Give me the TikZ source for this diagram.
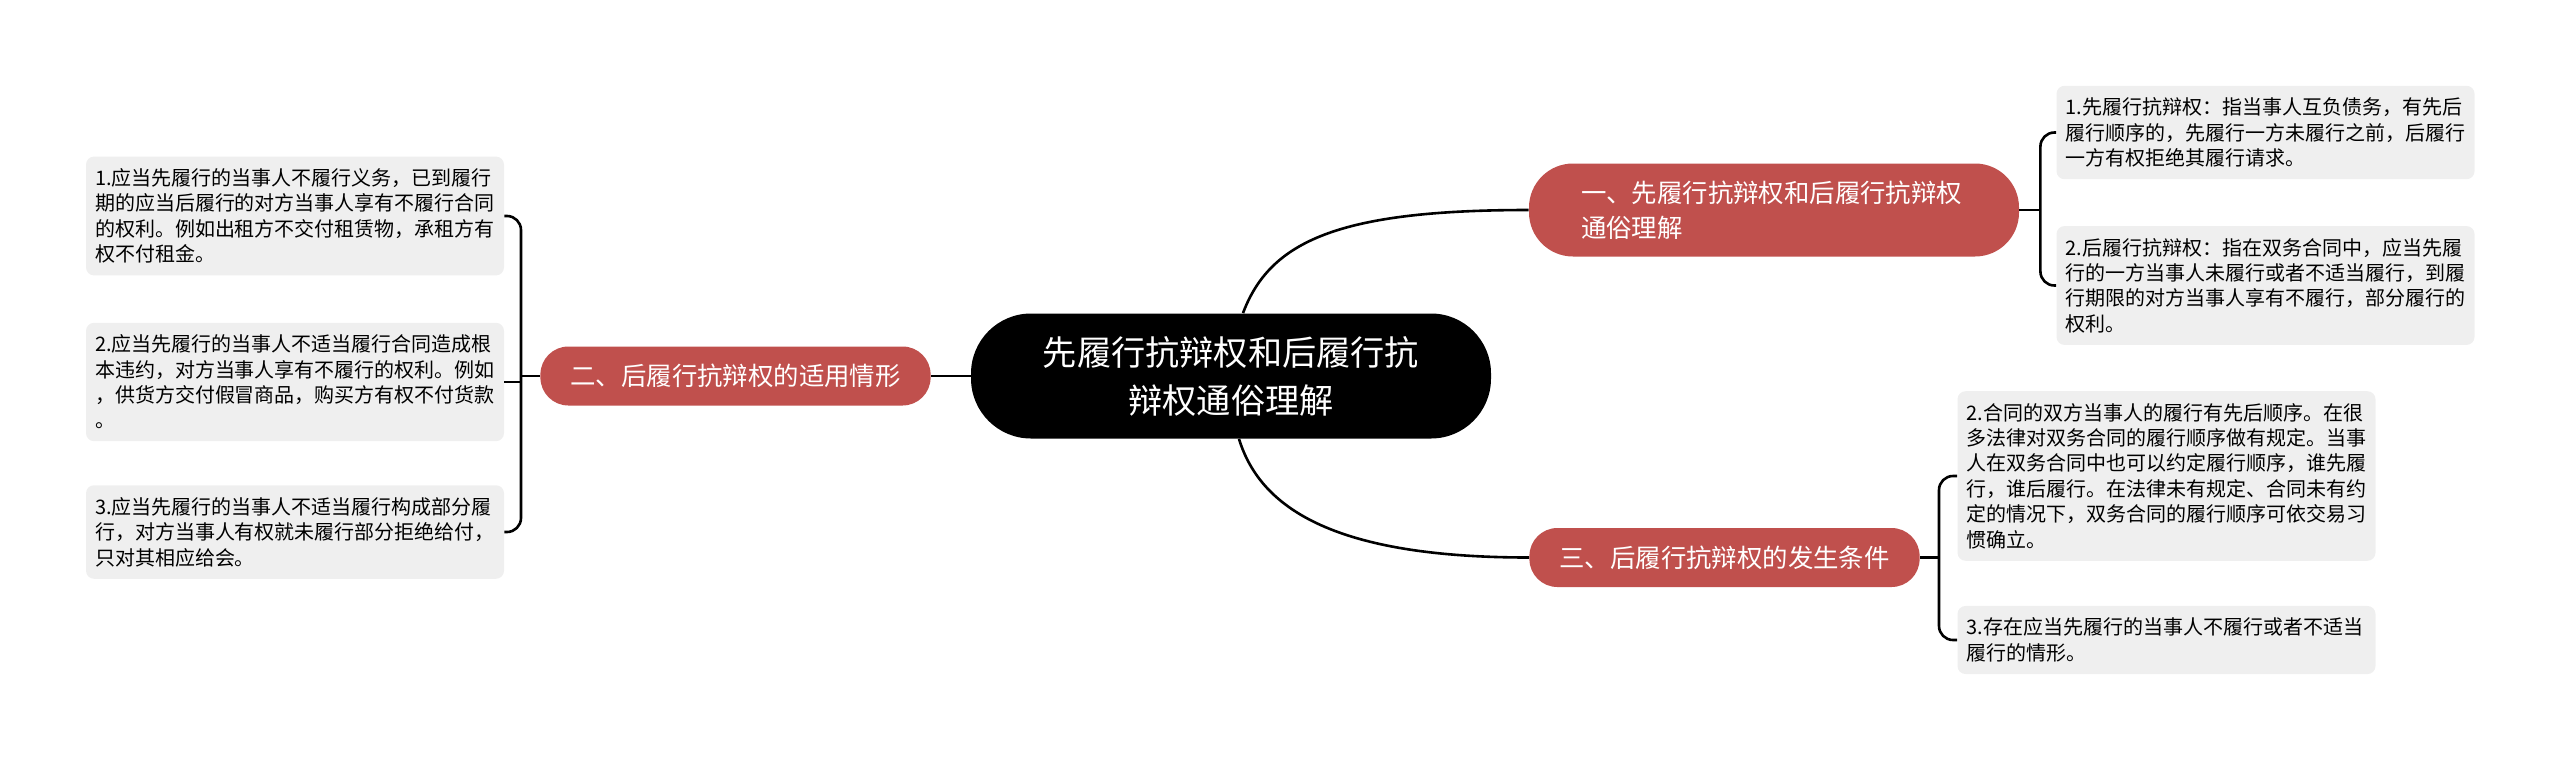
\documentclass[tikz,border=0pt]{standalone}
\usepackage{fontspec}
\setmainfont{Noto Sans CJK SC}
\usetikzlibrary{positioning}
\definecolor{topicred}{HTML}{C0504D}
\definecolor{leafgray}{HTML}{EFEFEF}

\begin{document}
\begin{tikzpicture}[x=0.5pt,y=-0.5pt,node distance=10pt,on grid,
    root/.style={fill=black,text=white,rounded corners=30pt,minimum width=260pt,minimum height=62.5pt,align=center,font=\fontsize{17.1}{24}\selectfont},
    topic/.style={fill=topicred,text=white,rounded corners=14pt,inner xsep=15pt,minimum height=29.5pt,font=\fontsize{12.7}{17.5}\selectfont},
    leaf/.style={fill=leafgray,rounded corners=4pt,text width=200pt,inner xsep=4.5pt,inner ysep=6pt,align=left,font=\fontsize{10}{12.7}\selectfont},
    link/.style={line width=1.3pt}]
            \useasboundingbox (0,0) rectangle (2560,761);
            \node[root] (root) at (1231,376) {先履行抗辩权和后履行抗\\辩权通俗理解};
            \node[topic, align=left, text width=193pt, inner xsep=26pt, minimum height=46.5pt, rounded corners=22pt] (t1) [above right=83pt and 271.5pt of root] {一、先履行抗辩权和后履行抗辩权\\通俗理解};
            \node[topic] (t2) [left=247.75pt of root] {二、后履行抗辩权的适用情形};
            \node[topic] (t3) [below right=90.75pt and 246.75pt of root] {三、后履行抗辩权的发生条件};
            \node[leaf] (l1) [above left=80pt and 220.25pt of t2] {1.应当先履行的当事人不履行义务，已到履行\\期的应当后履行的对方当事人享有不履行合同\\的权利。例如出租方不交付租赁物，承租方有\\权不付租金。};
            \node[leaf] (l2) [below left=3pt and 220.25pt of t2] {2.应当先履行的当事人不适当履行合同造成根\\本违约，对方当事人享有不履行的权利。例如\\，供货方交付假冒商品，购买方有权不付货款\\。};
            \node[leaf] (l3) [below left=78pt and 220.25pt of t2] {3.应当先履行的当事人不适当履行构成部分履\\行，对方当事人有权就未履行部分拒绝给付，\\只对其相应给会。};
            \node[leaf] (r1) [above right=38.75pt and 245.75pt of t1] {1.先履行抗辩权：指当事人互负债务，有先后\\履行顺序的，先履行一方未履行之前，后履行\\一方有权拒绝其履行请求。};
            \node[leaf] (r2) [below right=37.75pt and 245.75pt of t1] {2.后履行抗辩权：指在双务合同中，应当先履\\行的一方当事人未履行或者不适当履行，到履\\行期限的对方当事人享有不履行，部分履行的\\权利。};
            \node[leaf] (r3) [above right=40.75pt and 221pt of t3] {2.合同的双方当事人的履行有先后顺序。在很\\多法律对双务合同的履行顺序做有规定。当事\\人在双务合同中也可以约定履行顺序，谁先履\\行，谁后履行。在法律未有规定、合同未有约\\定的情况下，双务合同的履行顺序可依交易习\\惯确立。};
            \node[leaf] (r4) [below right=41.25pt and 221pt of t3] {3.存在应当先履行的当事人不履行或者不适当\\履行的情形。};
            \coordinate[right=10.5pt of t1.east] (j1);
            \coordinate[left=9.5pt of t2.west] (j2);
            \coordinate[right=9.5pt of t3.east] (j3);
            \draw[link] ([xshift=6pt]root.north) .. controls +(27,-72) and +(-190,0) .. (t1.west);
            \draw[link] ([xshift=4pt]root.south) .. controls +(22,72) and +(-190,0) .. (t3.west);
            \draw[link] (root.west) -- (t2.east);
            \draw[link] (t1.east) -- (j1);
            \draw[link] (t2.west) -- (j2) |- (l2.east);
            \draw[link] (t3.east) -- (j3);
            \draw[link, rounded corners=7pt] (r1.west) -| (j1) |- (r2.west);
            \draw[link, rounded corners=7pt] (l1.east) -| (j2) |- (l3.east);
            \draw[link, rounded corners=7pt] (r3.west) -| (j3) |- (r4.west);
        \end{tikzpicture}
\end{document}
